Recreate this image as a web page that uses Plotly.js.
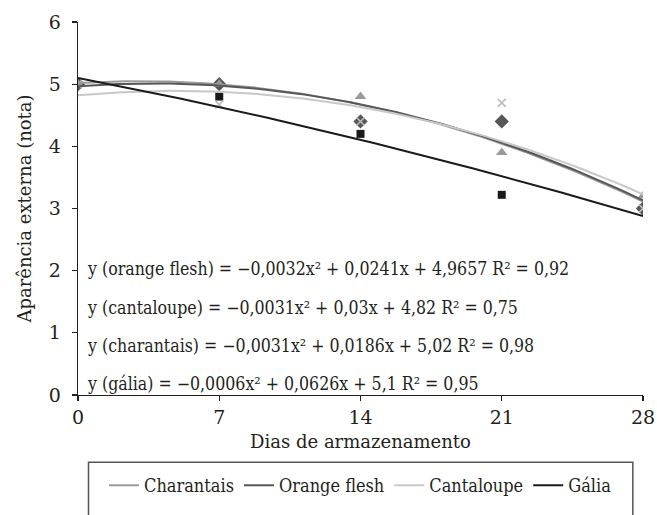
<!DOCTYPE html>
<html><head><meta charset="utf-8">
<script src="https://cdn.plot.ly/plotly-3.0.1.min.js"></script>
<style>html,body{margin:0;padding:0;background:#fff}</style>
</head><body><div id="chart" style="width:657px;height:515px"></div>
<script>
// ---- data ----
const days = [0, 7, 14, 21, 28];
const charantais = [5.0, 5.0, 4.8, 3.9, 3.2];
const orangeFlesh = [5.0, 5.0, 4.4, 4.4, 3.0];
const cantaloupe = [5.0, 4.67, 4.4, 4.7, 3.0];
const galia = [5.0, 4.8, 4.2, 3.22, 3.0];
const seriesNames = ['Charantais', 'Orange flesh', 'Cantaloupe', 'Gália'];
// polynomial trendline coefficients [a, b, c]: y = a·x² + b·x + c
const coefCharantais = [-0.0031, 0.0186, 5.02];
const coefOrangeFlesh = [-0.0032, 0.0241, 4.9657];
const coefCantaloupe = [-0.0031, 0.03, 4.82];
const coefGalia = [-0.0006, -0.0626, 5.1];
const equationLabels = [
  'y (orange flesh) = \u22120,0032x\u00b2 + 0,0241x + 4,9657 R\u00b2 = 0,92',
  'y (cantaloupe) = \u22120,0031x\u00b2 + 0,03x + 4,82 R\u00b2 = 0,75',
  'y (charantais) = \u22120,0031x\u00b2 + 0,0186x + 5,02 R\u00b2 = 0,98',
  'y (gália) = \u22120,0006x\u00b2 + 0,0626x + 5,1 R\u00b2 = 0,95'
];
const xTicks = [0, 7, 14, 21, 28];
const yTicks = [0, 1, 2, 3, 4, 5, 6];

const FONT = 'DejaVu Serif';
const FONT_C = 'DejaVu Serif Condensed, DejaVu Serif';
const INK = '#231f20';
const colors = {c: '#9a9a9a', o: '#575757', k: '#c8c8c8', g: '#1a1a1a'};

function trend(coef) {
  const xs = [], ys = [];
  for (let i = 0; i <= 112; i++) {
    const x = i * 0.25;
    xs.push(x);
    ys.push(coef[0] * x * x + coef[1] * x + coef[2]);
  }
  return {x: xs, y: ys};
}

const traces = [];
traces.push({x: days, y: galia, mode: 'markers', showlegend: false, hoverinfo: 'skip',
  marker: {symbol: 'square', size: 8, color: colors.g}});
traces.push({x: days, y: orangeFlesh, mode: 'markers', showlegend: false, hoverinfo: 'skip',
  marker: {symbol: 'diamond', size: 11, color: colors.o}});
traces.push({x: days, y: cantaloupe, mode: 'markers', showlegend: false, hoverinfo: 'skip',
  marker: {symbol: 'x-thin', size: 8, line: {width: 1.6, color: '#bdbdbd'}}});
traces.push({x: days, y: charantais, mode: 'markers', showlegend: false, hoverinfo: 'skip',
  marker: {symbol: 'triangle-up', size: 10, color: colors.c}});
const tc = trend(coefCharantais), to = trend(coefOrangeFlesh),
      tk = trend(coefCantaloupe), tg = trend(coefGalia);
traces.push({x: tc.x, y: tc.y, mode: 'lines', name: seriesNames[0], line: {color: colors.c, width: 2}});
traces.push({x: to.x, y: to.y, mode: 'lines', name: seriesNames[1], line: {color: colors.o, width: 2}});
traces.push({x: tk.x, y: tk.y, mode: 'lines', name: seriesNames[2], line: {color: colors.k, width: 2}});
traces.push({x: tg.x, y: tg.y, mode: 'lines', name: seriesNames[3], line: {color: colors.g, width: 2}});

const eqY = [2.02, 1.40, 0.79, 0.17];
const annotations = equationLabels.map((t, i) => ({
  text: t, xref: 'x', yref: 'y', x: 0.35, y: eqY[i], xanchor: 'left', yanchor: 'middle',
  showarrow: false, font: {family: FONT_C, size: 17.6, color: INK}
}));

const layout = {
  width: 657, height: 515,
  margin: {l: 77.5, r: 14, t: 22, b: 119},
  paper_bgcolor: '#fff', plot_bgcolor: '#fff',
  font: {family: FONT, size: 18, color: INK},
  showlegend: true,
  xaxis: {
    range: [0, 28], tickvals: xTicks, ticktext: xTicks.map(String),
    showgrid: false, zeroline: false, showline: true, linecolor: INK, linewidth: 1.3,
    ticks: 'outside', ticklen: 5, tickcolor: INK, tickwidth: 1.2,
    tickfont: {family: FONT, size: 19, color: INK},
    title: {text: 'Dias de armazenamento', font: {family: FONT, size: 18, color: INK}, standoff: 8},
    automargin: false
  },
  yaxis: {
    range: [0, 6], tickvals: yTicks, ticktext: yTicks.map(String),
    showgrid: false, zeroline: false, showline: true, linecolor: INK, linewidth: 1.3,
    ticks: 'outside', ticklen: 5, tickcolor: INK, tickwidth: 1.2, ticklabelstandoff: 7,
    tickfont: {family: FONT, size: 19, color: INK},
    title: {text: 'Aparência externa (nota)', font: {family: FONT, size: 18, color: INK}, standoff: 12},
    automargin: false
  },
  legend: {
    orientation: 'h', x: 0.5, xanchor: 'center', y: -0.19, yanchor: 'top',
    font: {family: FONT_C, size: 18, color: INK}, bgcolor: 'rgba(0,0,0,0)', borderwidth: 0,
    itemwidth: 30, tracegroupgap: 0
  },
  shapes: [{
    type: 'rect', xref: 'paper', yref: 'paper', x0: 0.0186, x1: 0.982, y0: -0.18, y1: -0.45,
    line: {color: '#555', width: 1.5}, fillcolor: 'rgba(0,0,0,0)'
  }],
  annotations: annotations
};

Plotly.newPlot('chart', traces, layout, {displayModeBar: false, staticPlot: true});
</script></body></html>
